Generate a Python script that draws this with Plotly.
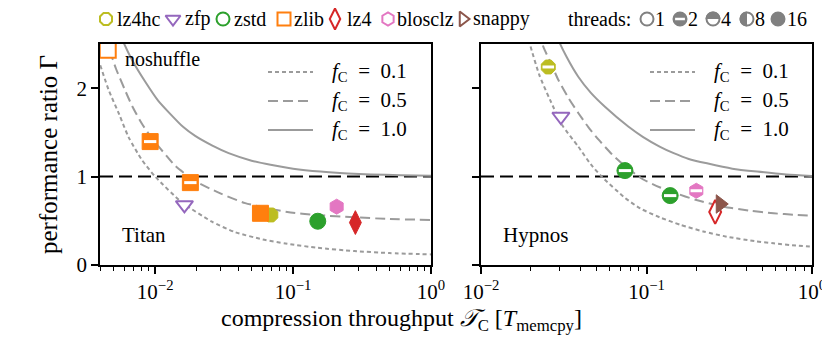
import plotly.graph_objects as go
from plotly.subplots import make_subplots

# measured points: compression throughput T_C [T_memcpy] and performance ratio Gamma
titan_algo = ["zlib", "zlib", "zlib", "zfp", "lz4hc", "zlib", "zstd", "blosclz", "lz4"]
titan_tc = [0.00453, 0.0092, 0.018, 0.0163, 0.069, 0.058, 0.151, 0.207, 0.283]
titan_gamma = [2.435, 1.396, 0.932, 0.68, 0.566, 0.585, 0.495, 0.66, 0.48]
titan_threads = [1, 2, 2, 1, 16, 16, 16, 16, 16]

hypnos_algo = ["lz4hc", "zfp", "zstd", "zstd", "blosclz", "lz4", "snappy"]
hypnos_tc = [0.0255, 0.0304, 0.0741, 0.139, 0.2, 0.26, 0.279]
hypnos_gamma = [2.24, 1.68, 1.068, 0.785, 0.84, 0.60, 0.69]
hypnos_threads = [2, 1, 2, 2, 2, 1, 16]

# model curves for f_C = 0.1 / 0.5 / 1.0
titan_f01_tc = [0.0040, 0.0046, 0.0055, 0.0064, 0.0080, 0.0100, 0.0156, 0.0258, 0.0382, 0.060, 0.0908, 0.15, 0.277, 0.5, 1.0]
titan_f01_g = [2.26, 1.98, 1.70, 1.45, 1.19, 1.00, 0.71, 0.49, 0.37, 0.29, 0.24, 0.195, 0.158, 0.135, 0.12]
titan_f05_tc = [0.0040, 0.0047, 0.0052, 0.0060, 0.0068, 0.0080, 0.0095, 0.0120, 0.0140, 0.0195, 0.0297, 0.045, 0.0908, 0.15, 0.277, 0.5, 1.0]
titan_f05_g = [2.75, 2.42, 2.22, 1.99, 1.80, 1.60, 1.43, 1.24, 1.12, 0.95, 0.81, 0.70, 0.60, 0.565, 0.54, 0.52, 0.51]
titan_f10_tc = [0.0050, 0.0057, 0.0068, 0.0085, 0.0105, 0.0125, 0.0160, 0.0195, 0.0260, 0.0341, 0.050, 0.0686, 0.10, 0.158, 0.25, 0.366, 0.6, 1.0]
titan_f10_g = [2.80, 2.57, 2.32, 2.07, 1.86, 1.73, 1.56, 1.46, 1.35, 1.265, 1.18, 1.133, 1.09, 1.057, 1.036, 1.025, 1.015, 1.009]

hypnos_f01_tc = [0.0185, 0.0198, 0.0225, 0.0261, 0.031, 0.0387, 0.046, 0.0536, 0.0741, 0.0916, 0.12, 0.16, 0.22, 0.306, 0.45, 0.586, 0.8, 1.0]
hypnos_f01_g = [2.70, 2.49, 2.15, 1.87, 1.58, 1.34, 1.14, 1.00, 0.76, 0.64, 0.54, 0.455, 0.38, 0.32, 0.27, 0.245, 0.22, 0.207]
hypnos_f05_tc = [0.0225, 0.0238, 0.0265, 0.0293, 0.0335, 0.0387, 0.0445, 0.0512, 0.062, 0.0741, 0.095, 0.12, 0.146, 0.2, 0.292, 0.42, 0.586, 0.8, 1.0]
hypnos_f05_g = [2.65, 2.47, 2.28, 2.095, 1.90, 1.72, 1.56, 1.42, 1.25, 1.12, 0.97, 0.88, 0.82, 0.735, 0.66, 0.615, 0.585, 0.567, 0.558]
hypnos_f10_tc = [0.027, 0.0293, 0.033, 0.0387, 0.046, 0.0561, 0.0776, 0.095, 0.12, 0.146, 0.18, 0.232, 0.33, 0.466, 0.7, 1.0]
hypnos_f10_g = [2.75, 2.55, 2.35, 2.13, 1.95, 1.79, 1.566, 1.45, 1.34, 1.265, 1.20, 1.15, 1.09, 1.057, 1.025, 1.008]

fc_labels = ["0.1", "0.5", "1.0"]
x_tickvals = [0.01, 0.1, 1]
x_ticktext = ["10<sup>\u22122</sup>", "10<sup>\u22121</sup>", "10<sup>0</sup>"]
titan_minor = [0.004, 0.005, 0.006, 0.007, 0.008, 0.009, 0.02, 0.03, 0.04, 0.05, 0.06, 0.07, 0.08, 0.09,
               0.2, 0.3, 0.4, 0.5, 0.6, 0.7, 0.8, 0.9]
hypnos_minor = titan_minor[6:]
y_tickvals = [0, 1, 2]
algos = ["lz4hc", "zfp", "zstd", "zlib", "lz4", "blosclz", "snappy"]
thread_counts = ["1", "2", "4", "8", "16"]

FONT = "Liberation Serif"
GREY = "#9b9b9b"
TGREY = "#808080"
DASHES = ["4px,3px", "10px,5px", "solid"]
STYLE = {  # symbol, color, size in panels, size in header
    "lz4hc": ("octagon", "#bcbd22", 15, 13),
    "zfp": ("triangle-down", "#9467bd", 15, 13),
    "zstd": ("circle", "#2ca02c", 16, 13),
    "zlib": ("square", "#ff7f0e", 16, 13),
    "lz4": ("diamond-tall", "#d62728", 17, 15),
    "blosclz": ("hexagon", "#e377c2", 15, 13),
    "snappy": ("triangle-right", "#8c564b", 16, 13),
}

# the page body has an 8px margin, so the figure is a little smaller than the window
PAD = 8
W, H = 830 - PAD, 340 - PAD


def px(x):
    return (x - PAD) / W


def py(y):
    return 1 - (y - PAD) / H


fig = make_subplots(rows=1, cols=2)


def add_point(col, algo, x, y, threads):
    sym, color, size, _ = STYLE[algo]
    fill = "white" if threads == 1 else color
    fig.add_trace(go.Scatter(x=[x], y=[y], mode="markers", showlegend=False, hoverinfo="skip",
                             marker=dict(symbol=sym, size=size, color=fill,
                                         line=dict(color=color, width=2 if threads == 1 else 1))),
                  row=1, col=col)
    if threads == 2:
        fig.add_trace(go.Scatter(x=[x], y=[y], mode="markers", showlegend=False, hoverinfo="skip",
                                 marker=dict(symbol="line-ew", size=size * 0.55,
                                             line=dict(color="white", width=3))),
                      row=1, col=col)


panels = [
    (1, [(titan_f01_tc, titan_f01_g), (titan_f05_tc, titan_f05_g), (titan_f10_tc, titan_f10_g)],
     titan_algo, titan_tc, titan_gamma, titan_threads),
    (2, [(hypnos_f01_tc, hypnos_f01_g), (hypnos_f05_tc, hypnos_f05_g), (hypnos_f10_tc, hypnos_f10_g)],
     hypnos_algo, hypnos_tc, hypnos_gamma, hypnos_threads),
]
for col, curves, p_algo, p_tc, p_g, p_thr in panels:
    for (xs, ys), dash in zip(curves, DASHES):
        fig.add_trace(go.Scatter(x=xs, y=ys, mode="lines", showlegend=False, hoverinfo="skip",
                                 line=dict(color=GREY, width=2, dash=dash, shape="spline", smoothing=0.6)),
                      row=1, col=col)
    fig.add_hline(y=1, line=dict(color="black", width=2, dash="13px,6px"), layer="below", row=1, col=col)
    for a, x, y, t in zip(p_algo, p_tc, p_g, p_thr):
        add_point(col, a, x, y, t)

axis_common = dict(type="log", showgrid=False, zeroline=False, showline=True, linecolor="black",
                   linewidth=1.6, mirror=True, ticks="outside", ticklen=7, tickwidth=1.5, tickcolor="black",
                   automargin=False,
                   tickvals=x_tickvals, ticktext=x_ticktext, tickfont=dict(family=FONT, size=21, color="black"))
y_common = dict(range=[0, 2.5], showgrid=False, zeroline=False, showline=True, linecolor="black",
                linewidth=1.6, mirror=True, ticks="outside", ticklen=7, tickwidth=1.5, tickcolor="black",
                automargin=False,
                tickvals=y_tickvals, tickfont=dict(family=FONT, size=21, color="black"))

fig.update_layout(
    width=W, height=H, margin=dict(l=0, r=0, t=0, b=0, autoexpand=False),
    paper_bgcolor="white", plot_bgcolor="rgba(0,0,0,0)", showlegend=False,
    font=dict(family=FONT, size=20, color="black"),
    xaxis=dict(axis_common, domain=[px(100), px(431)], range=[-2.4, 0],
               minor=dict(ticks="outside", ticklen=4, tickwidth=1.2, tickcolor="black", tickvals=titan_minor)),
    xaxis2=dict(axis_common, domain=[px(481), px(812)], range=[-2, 0],
                minor=dict(ticks="outside", ticklen=4, tickwidth=1.2, tickcolor="black", tickvals=hypnos_minor)),
    yaxis=dict(y_common, domain=[py(265), py(44)]),
    yaxis2=dict(y_common, domain=[py(265), py(44)], showticklabels=False),
    # window-pixel overlay for the header legend and the in-panel line keys
    xaxis3=dict(domain=[0, 1], range=[PAD, 830], visible=False, anchor="y3", fixedrange=True, automargin=False),
    yaxis3=dict(domain=[0, 1], range=[340, PAD], visible=False, anchor="x3", fixedrange=True, automargin=False),
)


def overlay(**kw):
    fig.add_trace(go.Scatter(xaxis="x3", yaxis="y3", showlegend=False, hoverinfo="skip", **kw))


def label(x, y, text, size=20, anchor="left", angle=0):
    fig.add_annotation(x=px(x), y=py(y), xref="paper", yref="paper", text=text, showarrow=False,
                       xanchor=anchor, yanchor="middle", textangle=angle,
                       font=dict(family=FONT, size=size, color="black"))


# header: algorithms
HEAD_Y = 19
algo_marker_x = [106, 173, 223, 284, 335, 388, 463]
algo_text_x = [115, 183, 232, 292, 345, 395, 471]
for a, mx, tx in zip(algos, algo_marker_x, algo_text_x):
    sym, color, _, hsize = STYLE[a]
    overlay(x=[mx], y=[HEAD_Y], mode="markers",
            marker=dict(symbol=sym, size=hsize, color="white", line=dict(color=color, width=2)))
    label(tx, HEAD_Y, a)

# header: thread counts
label(566, HEAD_Y, "threads:")
thread_marker_x = [647, 680, 713, 747, 778]
thread_text_x = [653, 686, 719, 753, 785]


def half_disc(cx, cy, r, side):
    k = 0.5523 * r
    if side == "top":
        return (f"M{cx - r},{cy} C{cx - r},{cy - k} {cx - k},{cy - r} {cx},{cy - r} "
                f"C{cx + k},{cy - r} {cx + r},{cy - k} {cx + r},{cy} Z")
    return (f"M{cx},{cy - r} C{cx - k},{cy - r} {cx - r},{cy - k} {cx - r},{cy} "
            f"C{cx - r},{cy + k} {cx - k},{cy + r} {cx},{cy + r} Z")


for t, mx, tx in zip(thread_counts, thread_marker_x, thread_text_x):
    fill = TGREY if t in ("2", "16") else "white"
    overlay(x=[mx], y=[HEAD_Y], mode="markers",
            marker=dict(symbol="circle", size=13, color=fill, line=dict(color=TGREY, width=2)))
    if t == "2":
        overlay(x=[mx], y=[HEAD_Y], mode="markers",
                marker=dict(symbol="line-ew", size=7, line=dict(color="white", width=2.5)))
    if t in ("4", "8"):
        fig.add_shape(type="path", xref="x3", yref="y3", layer="above", line=dict(width=0),
                      fillcolor=TGREY, path=half_disc(mx, HEAD_Y, 7.4, "top" if t == "4" else "left"))
    label(tx, HEAD_Y, t)

# in-panel keys for f_C
key_rows = [72, 101, 130]
for x0, x1, tx in ((268, 313, 330), (650, 695, 712)):
    for fc, dash, ry in zip(fc_labels, DASHES, key_rows):
        overlay(x=[x0, x1], y=[ry, ry], mode="lines", line=dict(color=GREY, width=2, dash=dash))
        label(tx, ry, f"<i>f</i><sub>C</sub>\u2002=\u2002{fc}", size=21)

# panel annotations
label(123, 59, "noshuffle", size=20)
label(120, 235, "Titan", size=21)
label(501, 235, "Hypnos", size=21)

# axis titles
label(49, 155, "performance ratio \u0393", size=25, anchor="center", angle=-90)
label(401, 320, "compression throughput <i>\U0001D4AF</i><sub>C</sub> [<i>T</i><sub>memcpy</sub>]",
      size=24, anchor="center")

fig.write_html("out.html")
